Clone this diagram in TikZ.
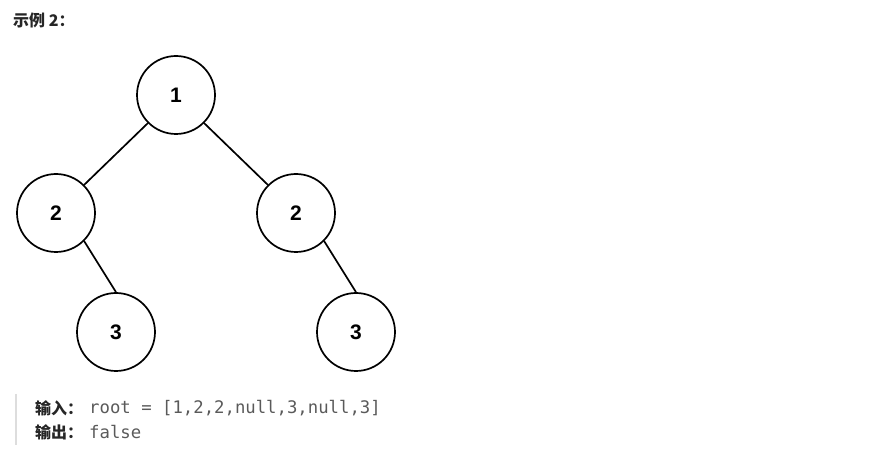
\documentclass[tikz,border=0pt]{standalone}
\usepackage{fontspec}
\setmainfont{Liberation Sans}
\newfontfamily\cjk{Noto Sans CJK SC}
\newfontfamily\monof{DejaVu Sans Mono}
\definecolor{codegray}{RGB}{90,90,90}
\definecolor{bargray}{RGB}{221,221,221}
\begin{document}
\begin{tikzpicture}[x=1pt,y=-1pt,
  tnode/.style={circle,draw=black,line width=1.7pt,minimum size=78pt,inner sep=0pt,font=\fontsize{21}{21}\selectfont\bfseries},
  tedge/.style={draw=black,line width=1.7pt},
  label/.style={anchor=west,inner sep=0pt},
  cjklabel/.style={label,font=\cjk\fontsize{16}{16}\selectfont\bfseries,text=black!85},
  codelabel/.style={label,font=\monof\fontsize{17.3}{17.3}\selectfont,text=codegray}]
\useasboundingbox (0,0) rectangle (876,454);
\node[cjklabel] (title) at (13,20) {示例 2：};
\node[tnode] (n1) at (176,95) {1};
\node[tnode] (n2l) at (56,213) {2};
\node[tnode] (n2r) at (296,213) {2};
\node[tnode] (n3l) at (116,332) {3};
\node[tnode] (n3r) at (356,332) {3};
\draw[tedge] (n1.-135) -- (n2l.45);
\draw[tedge] (n1.-45) -- (n2r.135);
\draw[tedge] (n2l.-45) -- (n3l.north);
\draw[tedge] (n2r.-45) -- (n3r.north);
\coordinate (bart) at (16,394);
\coordinate (barb) at (16,445);
\draw[bargray,line width=2pt] (bart) -- (barb);
\node[cjklabel] (in) at (35,408) {输入：};
\node[codelabel] (inv) at (89,408) {root = [1,2,2,null,3,null,3]};
\node[cjklabel] (out) at (35,432) {输出：};
\node[codelabel] (outv) at (89,432) {false};
\end{tikzpicture}
\end{document}
